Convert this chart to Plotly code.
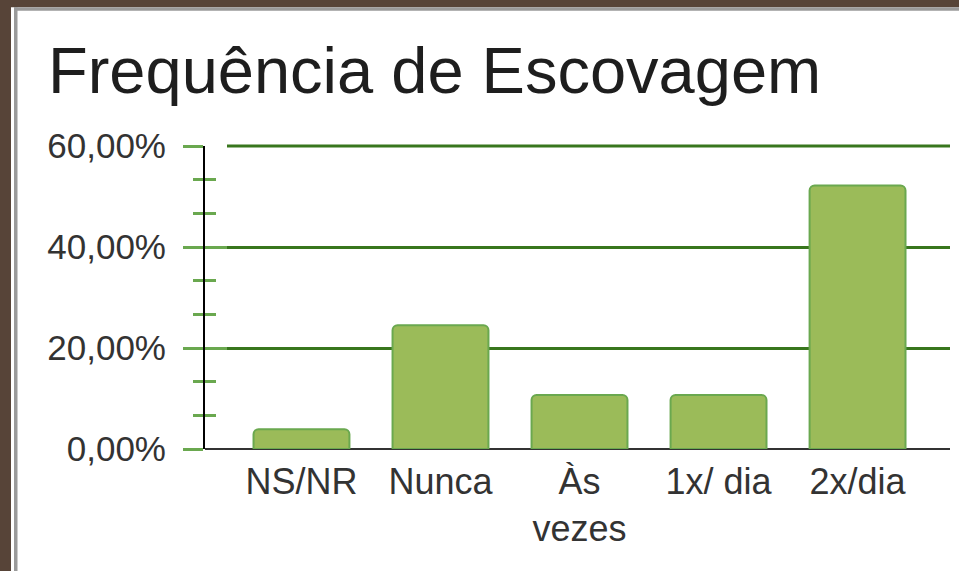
import plotly.graph_objects as go

# ---- data ----
categories = ["NS/NR", "Nunca", "Às<br>vezes", "1x/ dia", "2x/dia"]
values = [3.9, 24.5, 10.7, 10.7, 52.2]
y_tickvals = [0, 20, 40, 60]
y_ticktext = ["0,00%", "20,00%", "40,00%", "60,00%"]
title_text = "Frequência de Escovagem"

# ---- geometry (pixels) ----
W, H = 959, 571
L, R, T, B = 205, 9, 146, 122
pw, ph = W - L - R, H - T - B

def px_x(p):
    return (p - L) / pw

def px_y(p):
    return (H - B - p) / ph

FONT = "Liberation Sans, Arial, sans-serif"
BAR_FILL = "#9bbb59"
BAR_LINE = "#6aa84f"
GRID = "#38761d"
TICK = "#6aa84f"
BROWN = "#574438"
GREY = "#9a9a9a"
LABEL = "#333333"

fig = go.Figure()
fig.add_trace(go.Bar(
    x=categories, y=values,
    marker=dict(color=BAR_FILL, line=dict(color=BAR_LINE, width=2), cornerradius=5),
    hoverinfo="skip", showlegend=False,
))
# invisible helper trace so the overlay axis (inner tick half) is drawn
fig.add_trace(go.Scatter(
    x=categories, y=values, yaxis="y2", mode="markers",
    marker=dict(opacity=0), hoverinfo="skip", showlegend=False,
))

yr = [0, 60]
top_frac = (y_tickvals[-1] - yr[0]) / (yr[1] - yr[0])

fig.update_layout(
    width=W, height=H,
    margin=dict(l=L, r=R, t=T, b=B, pad=0),
    paper_bgcolor="white", plot_bgcolor="white",
    font=dict(family=FONT, color=LABEL),
    bargap=0.31,
    title=dict(
        text=title_text, font=dict(family=FONT, size=65, color="#1e1e1e"),
        x=48 / W, xanchor="left", xref="container",
        y=1 - 70 / H, yanchor="middle", yref="container",
    ),
    xaxis=dict(
        type="category", range=[-0.694, 4.665],
        showgrid=False, showline=False, zeroline=False,
        ticks="", tickfont=dict(size=36, color=LABEL),
        ticklabelstandoff=8,
    ),
    yaxis=dict(
        range=yr, tickvals=y_tickvals, ticktext=y_ticktext,
        tickfont=dict(size=35, color=LABEL),
        showgrid=True, gridcolor=GRID, gridwidth=3,
        zeroline=True, zerolinecolor="#333333", zerolinewidth=2,
        showline=True, linecolor="black", linewidth=2,
        ticks="outside", ticklen=20, tickwidth=3, tickcolor=TICK,
        ticklabelstandoff=10,
        minor=dict(ticks="outside", ticklen=10, tickwidth=3, tickcolor=TICK,
                   tick0=0, dtick=20 / 3, showgrid=False),
        fixedrange=True,
    ),
    yaxis2=dict(
        range=yr, overlaying="y", side="left", anchor="x",
        tickvals=y_tickvals, showticklabels=False,
        showgrid=False, zeroline=False, showline=False,
        ticks="inside", ticklen=22, tickwidth=3, tickcolor=TICK,
        minor=dict(ticks="inside", ticklen=11, tickwidth=3, tickcolor=TICK,
                   tick0=0, dtick=20 / 3, showgrid=False),
    ),
    shapes=[
        # top gridline (plotly drops the grid line sitting on the range edge)
        dict(type="line", xref="paper", yref="paper", layer="below",
             x0=px_x(227), x1=1, y0=top_frac, y1=top_frac,
             line=dict(color=GRID, width=3)),
        # brown frame (left + top)
        dict(type="rect", xref="paper", yref="paper", layer="above",
             x0=px_x(0), x1=px_x(11), y0=px_y(H), y1=px_y(0),
             fillcolor=BROWN, line=dict(width=0)),
        dict(type="rect", xref="paper", yref="paper", layer="above",
             x0=px_x(0), x1=px_x(W), y0=px_y(7.3), y1=px_y(0),
             fillcolor=BROWN, line=dict(width=0)),
        # grey inner border lines
        dict(type="rect", xref="paper", yref="paper", layer="above",
             x0=px_x(14), x1=px_x(W), y0=px_y(10.7), y1=px_y(7.3),
             fillcolor=GREY, line=dict(width=0)),
        dict(type="rect", xref="paper", yref="paper", layer="above",
             x0=px_x(14), x1=px_x(17.5), y0=px_y(H), y1=px_y(7.3),
             fillcolor=GREY, line=dict(width=0)),
    ],
)

fig.write_html(
    "out.html",
    config=dict(displayModeBar=False, staticPlot=True),
    post_script="document.body.style.margin='0';document.body.style.overflow='hidden';",
)
